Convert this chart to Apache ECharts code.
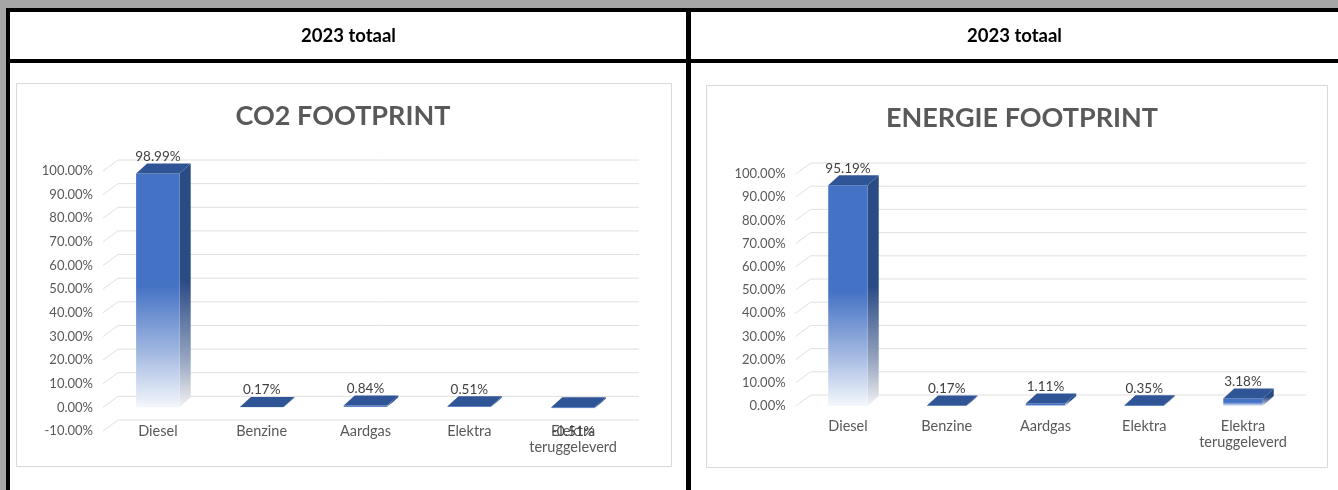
<!DOCTYPE html>
<html><head><meta charset="utf-8">
<script src="https://cdn.jsdelivr.net/npm/echarts@6/dist/echarts.min.js"></script>
<style>html,body{margin:0;padding:0;background:#a6a6a6;} #c{width:1338px;height:490px;}</style>
</head><body><div id="c"></div>
<script>
// ---- data ----
const categories = ['Diesel', 'Benzine', 'Aardgas', 'Elektra', 'Elektra\nteruggeleverd'];
const co2Values = [98.99, 0.17, 0.84, 0.51, -0.51];
const energyValues = [95.19, 0.17, 1.11, 0.35, 3.18];
const co2Ticks = [-10, 0, 10, 20, 30, 40, 50, 60, 70, 80, 90, 100];
const energyTicks = [0, 10, 20, 30, 40, 50, 60, 70, 80, 90, 100];
const headerText = '2023 totaal';
const chartTitles = ['CO2 FOOTPRINT', 'ENERGIE FOOTPRINT'];

// ---- styling ----
const FONT = 'Lato, "Liberation Sans", sans-serif';
const DX = 11, DY = 10;          // bar depth
const WDX = 14, WDY = 11;        // wall depth
const fmtPct = v => v.toFixed(2) + '%';

function bar3D(ratio) {
  return function (params, api) {
    const i = api.value(0), v = api.value(1);
    const p0 = api.coord([i, 0]), p1 = api.coord([i, v]);
    const bw = api.size([1, 0])[0] * ratio;
    const xl = p0[0] - bw / 2, xr = xl + bw;
    const yt = Math.min(p0[1], p1[1]), yb = Math.max(p0[1], p1[1]);
    const h = Math.max(yb - yt, 0.6);
    const front = new echarts.graphic.LinearGradient(0, 0, 0, 1, [
      { offset: 0, color: '#4472c4' }, { offset: 0.48, color: '#4472c4' },
      { offset: 0.75, color: '#9db4df' }, { offset: 1, color: '#f4f7fc' }]);
    const side = new echarts.graphic.LinearGradient(0, 0, 0, 1, [
      { offset: 0, color: '#2b4b85' }, { offset: 0.48, color: '#2b4b85' },
      { offset: 0.8, color: '#95a4c0' }, { offset: 1, color: '#f2f2f2' }]);
    const lblY = v >= 0 ? yt - DY - 7 : yb + 23;
    return {
      type: 'group',
      children: [
        { type: 'polygon', shape: { points: [[xr, yt], [xr + DX, yt - DY], [xr + DX, yt - DY + h], [xr, yt + h]] }, style: { fill: side } },
        { type: 'rect', shape: { x: xl, y: yt, width: bw, height: h }, style: { fill: front } },
        { type: 'polygon', shape: { points: [[xl, yt], [xr, yt], [xr + DX, yt - DY], [xl + DX, yt - DY]] }, style: { fill: '#2f5597' } },
        { type: 'text', style: { text: fmtPct(v), x: p0[0], y: lblY, align: 'center', verticalAlign: 'middle', fill: '#404040', font: '13.5px ' + FONT } }
      ]
    };
  };
}

function gridLines(params, api) {
  const cs = params.coordSys;
  const y = api.coord([0, api.value(1)])[1];
  return {
    type: 'polyline',
    shape: { points: [[cs.x - 3, y], [cs.x + 12, y - WDY], [cs.x + cs.width + WDX, y - WDY]] },
    style: { stroke: '#e0e0e0', lineWidth: 1, fill: null }
  };
}

function yAxisOf(ticks, gi) {
  return {
    type: 'value', gridIndex: gi, min: ticks[0], max: ticks[ticks.length - 1], interval: 10,
    axisLine: { show: false }, axisTick: { show: false }, splitLine: { show: false },
    axisLabel: { formatter: fmtPct, color: '#595959', fontSize: 13, fontFamily: FONT, margin: 13 }
  };
}
function xAxisOf(gi, margin) {
  return {
    type: 'category', gridIndex: gi, data: categories,
    axisLine: { show: false }, axisTick: { show: false }, splitLine: { show: false },
    axisLabel: { interval: 0, color: '#595959', fontSize: 14.5, lineHeight: 16, fontFamily: FONT, margin: margin }
  };
}

const chart = echarts.init(document.getElementById('c'), null, { renderer: 'canvas' });
const W = 1338, H = 490;
chart.setOption({
  backgroundColor: '#a6a6a6',
  animation: false,
  title: [
    { text: chartTitles[0], left: 343, top: 116, textAlign: 'center', textVerticalAlign: 'middle', padding: 0,
      textStyle: { fontSize: 27, fontWeight: 'bold', color: '#595959', fontFamily: FONT } },
    { text: chartTitles[1], left: 1022, top: 118, textAlign: 'center', textVerticalAlign: 'middle', padding: 0,
      textStyle: { fontSize: 27, fontWeight: 'bold', color: '#595959', fontFamily: FONT } }
  ],
  graphic: [
    { type: 'rect', z: -10, shape: { x: 6, y: 8, width: W - 6, height: H - 8 }, style: { fill: '#000' } },
    { type: 'rect', z: -9, shape: { x: 10, y: 12, width: 676, height: 47 }, style: { fill: '#fff' } },
    { type: 'rect', z: -9, shape: { x: 691, y: 12, width: W - 691, height: 47 }, style: { fill: '#fff' } },
    { type: 'rect', z: -9, shape: { x: 10, y: 63, width: 676, height: H - 63 }, style: { fill: '#fff' } },
    { type: 'rect', z: -9, shape: { x: 691, y: 63, width: W - 691, height: H - 63 }, style: { fill: '#fff' } },
    { type: 'rect', z: -8, shape: { x: 16.5, y: 83.5, width: 655, height: 383 }, style: { fill: '#fff', stroke: '#d9d9d9', lineWidth: 1 } },
    { type: 'rect', z: -8, shape: { x: 706.5, y: 85.5, width: 621, height: 382 }, style: { fill: '#fff', stroke: '#d9d9d9', lineWidth: 1 } },
    { type: 'text', z: 5, style: { text: headerText, x: 348.5, y: 36, align: 'center', verticalAlign: 'middle', fill: '#000', font: 'bold 18.5px ' + FONT } },
    { type: 'text', z: 5, style: { text: headerText, x: 1014.5, y: 36, align: 'center', verticalAlign: 'middle', fill: '#000', font: 'bold 18.5px ' + FONT } }
  ],
  grid: [
    { left: 106, width: 519, top: 171, height: 260 },
    { left: 798.6, width: 493.8, top: 174, height: 232 }
  ],
  xAxis: [xAxisOf(0, -8), xAxisOf(1, 12)],
  yAxis: [yAxisOf(co2Ticks, 0), yAxisOf(energyTicks, 1)],
  series: [
    { type: 'custom', xAxisIndex: 0, yAxisIndex: 0, z: 1, clip: false, silent: true,
      data: co2Ticks.map(t => [0, t]), encode: { x: 0, y: 1 }, renderItem: gridLines },
    { type: 'custom', xAxisIndex: 1, yAxisIndex: 1, z: 1, clip: false, silent: true,
      data: energyTicks.map(t => [0, t]), encode: { x: 0, y: 1 }, renderItem: gridLines },
    { type: 'custom', name: 'CO2', xAxisIndex: 0, yAxisIndex: 0, z: 3, clip: false,
      data: co2Values.map((v, i) => [i, v]), encode: { x: 0, y: 1 }, renderItem: bar3D(0.42) },
    { type: 'custom', name: 'Energie', xAxisIndex: 1, yAxisIndex: 1, z: 3, clip: false,
      data: energyValues.map((v, i) => [i, v]), encode: { x: 0, y: 1 }, renderItem: bar3D(0.40) }
  ]
});
</script></body></html>
